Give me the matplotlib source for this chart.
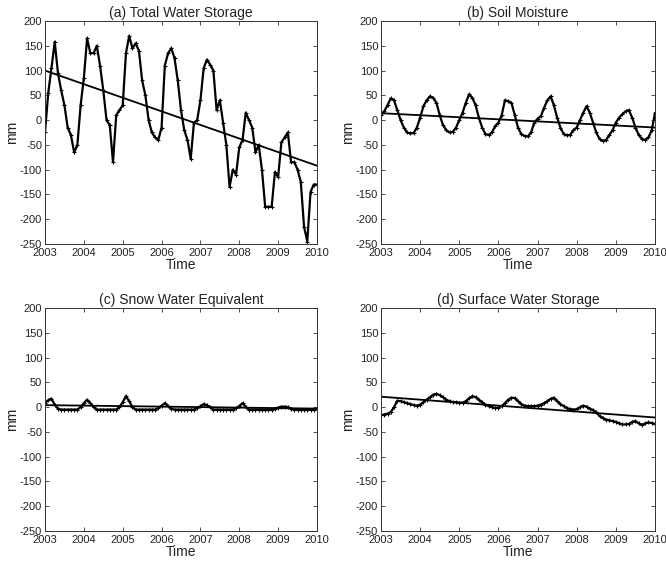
import numpy as np
import matplotlib
matplotlib.use("Agg")
import matplotlib.pyplot as plt

plt.rcParams['font.family'] = ['Liberation Sans', 'DejaVu Sans']
plt.rcParams['axes.unicode_minus'] = False

# monthly values, Jan 2003 .. Jan 2010 (mm)
tws = [-25, 55, 105, 158, 95, 60, 30, -15, -30, -65, -50, 30,
       85, 165, 135, 135, 150, 110, 60, 0, -10, -85, 10, 20,
       30, 135, 170, 145, 155, 140, 80, 50, 0, -25, -35, -40,
       -15, 110, 135, 145, 125, 80, 20, -20, -40, -78, -5, 0,
       40, 105, 122, 112, 100, 20, 40, -5, -50, -135, -100, -110,
       -55, -40, 15, 0, -15, -65, -50, -100, -175, -175, -175, -105,
       -115, -45, -35, -25, -85, -85, -100, -125, -215, -245, -145, -130,
       -130]
soil = [10, 18, 30, 44, 40, 20, 0, -15, -25, -27, -26, -15,
        5, 28, 40, 48, 45, 35, 10, -10, -20, -25, -24, -15,
        0, 15, 35, 52, 45, 30, 5, -15, -28, -30, -25, -12,
        -5, 10, 40, 38, 35, 10, -15, -28, -32, -33, -25, -5,
        3, 8, 25, 40, 48, 30, 5, -15, -28, -31, -30, -20,
        -15, 0, 15, 28, 15, -5, -25, -38, -42, -40, -30, -20,
        -5, 5, 12, 18, 20, 5, -15, -30, -38, -40, -35, -20,
        14]
snow = [8, 14, 17, 5, -3, -5, -5, -5, -5, -5, -5, 0,
        8, 15, 8, 0, -5, -5, -5, -5, -5, -5, -5, 0,
        10, 22, 12, 0, -5, -5, -5, -5, -5, -5, -5, -2,
        3, 8, 2, -3, -5, -5, -5, -5, -5, -5, -5, -2,
        2, 6, 4, 0, -5, -5, -5, -5, -5, -5, -5, -2,
        2, 8, 0, -5, -5, -5, -5, -5, -5, -5, -5, -3,
        -1, 1, 1, 0, -3, -5, -5, -5, -5, -5, -5, -5,
        -3]
surface = [-16, -15, -13, -10, 0, 13, 12, 10, 8, 6, 4, 3,
           5, 10, 15, 20, 25, 27, 24, 20, 15, 12, 10, 10,
           9, 9, 12, 18, 22, 20, 15, 10, 5, 2, 0, -2,
           -1, 2, 8, 15, 19, 18, 12, 6, 3, 2, 2, 2,
           3, 5, 8, 12, 17, 19, 12, 6, 2, -2, -4, -5,
           -4, 0, 3, 1, -3, -6, -10, -18, -22, -25, -27, -28,
           -30, -33, -35, -35, -34, -30, -28, -33, -36, -33, -31, -32,
           -34]

# linear trend, values at 2003 and 2010
trend_tws = [100, -92]
trend_soil = [14, -15]
trend_snow = [4, -3]
trend_surface = [21, -21]

titles = ['(a) Total Water Storage', '(b) Soil Moisture',
          '(c) Snow Water Equivalent', '(d) Surface Water Storage']
series = [tws, soil, snow, surface]
trends = [trend_tws, trend_soil, trend_snow, trend_surface]

W, H = 666, 568
# axes boxes in pixels: left, right, top, bottom
boxes = [(45, 317, 21, 244), (381, 655, 21, 244),
         (45, 317, 308, 531), (381, 655, 308, 531)]

fig = plt.figure(figsize=(W / 100, H / 100), dpi=100)

for box, title, y, tr in zip(boxes, titles, series, trends):
    l, r, t, b = box
    ax = fig.add_axes([l / W, 1 - b / H, (r - l) / W, (b - t) / H])
    x = 2003 + np.arange(len(y)) / 12.0
    ax.plot(x, y, color='k', lw=1.6, marker='+', ms=3, mew=0.8)
    ax.plot([2003, 2010], tr, color='k', lw=1.3)
    ax.set_xlim(2003, 2010)
    ax.set_ylim(-250, 200)
    ax.set_xticks(range(2003, 2011))
    ax.set_yticks(range(-250, 201, 50))
    ax.tick_params(direction='in', top=True, right=True, length=3,
                   width=0.6, labelsize=8, colors='#333333',
                   labelcolor='#222222')
    ax.tick_params(axis='x', pad=3)
    ax.tick_params(axis='y', pad=2)
    for s in ax.spines.values():
        s.set_linewidth(0.7)
        s.set_color('#333333')
    ax.set_title(title, fontsize=10, pad=3, color='#222222')
    ax.set_xlabel('Time', fontsize=10, labelpad=0, color='#222222')
    ax.set_ylabel('mm', fontsize=10, labelpad=1, color='#222222')

fig.savefig('out.png', dpi=100)
